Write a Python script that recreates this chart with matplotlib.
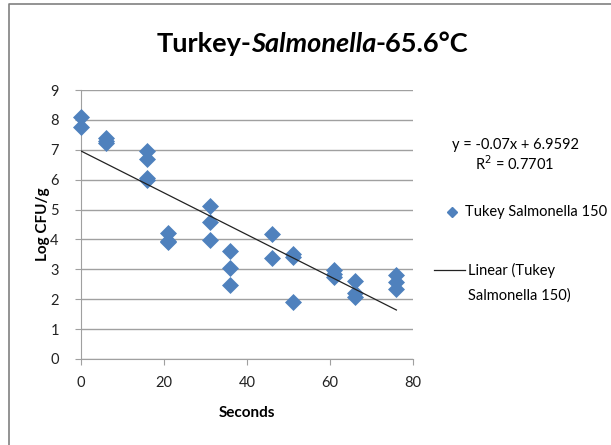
import matplotlib.pyplot as plt
import numpy as np
from matplotlib.lines import Line2D

plt.rcParams['font.family'] = ['Lato', 'DejaVu Sans']

# Survival data, turkey / Salmonella at 65.6 C
seconds = [0, 0, 6, 6, 6, 16, 16, 16, 16, 21, 21, 21, 31, 31, 31, 36, 36, 36,
           46, 46, 51, 51, 51, 61, 61, 61, 66, 66, 66, 76, 76, 76]
log_cfu = [8.1, 7.76, 7.4, 7.3, 7.22, 6.95, 6.68, 6.05, 6.0, 4.2, 3.95, 3.9,
           5.13, 4.6, 3.97, 3.62, 3.03, 2.48, 4.17, 3.38, 3.5, 3.42, 1.9,
           2.97, 2.85, 2.73, 2.62, 2.22, 2.07, 2.8, 2.57, 2.33]

# Linear trend (as reported)
slope = -0.07
intercept = 6.9592
r_squared = 0.7701

fig = plt.figure(figsize=(6.11, 4.45), dpi=100)
ax = fig.add_axes([81 / 611, 1 - 359 / 445, 332 / 611, 269 / 445])

ax.scatter(seconds, log_cfu, marker='D', s=75, color='#4F81BD', zorder=3,
           linewidths=0, clip_on=False)
xs = np.array([min(seconds), max(seconds)])
ax.plot(xs, slope * xs + intercept, color='#222222', lw=0.9, zorder=4)

ax.set_xlim(0, 80)
ax.set_ylim(0, 9)
ax.set_xticks(range(0, 81, 20))
ax.set_yticks(range(0, 10))
ax.grid(axis='y', color='#A0A0A0', lw=1)
ax.set_axisbelow(True)
for side in ['top', 'right']:
    ax.spines[side].set_visible(False)
for side in ['left', 'bottom']:
    ax.spines[side].set_color('#A0A0A0')
ax.tick_params(axis='both', colors='#A0A0A0', labelcolor='#222222',
               labelsize=10.5, length=4, direction='out')
ax.tick_params(axis='y', pad=12)
ax.tick_params(axis='x', pad=8)
ax.set_xlabel('Seconds', fontsize=11, fontweight='bold', labelpad=12)
ax.set_ylabel('Log CFU/g', fontsize=11, fontweight='bold', labelpad=0)

# chart title, mixed upright and italic
parts = [('Turkey-', 'normal'), ('Salmonella', 'italic'), ('-65.6°C', 'normal')]
renderer = fig.canvas.get_renderer()
x = 157
for txt, style in parts:
    t = fig.text(x / 611, 1 - 44 / 445, txt, fontsize=19.5, fontweight='bold',
                 style=style, ha='left', va='center')
    x += t.get_window_extent(renderer).width - 1

# trendline equation
fig.text(515 / 611, 1 - 145 / 445, 'y = -0.07x + 6.9592', fontsize=10.5,
         ha='center', va='center')
fig.text(515 / 611, 1 - 164 / 445, 'R$^2$ = %.4f' % r_squared, fontsize=10.5,
         ha='center', va='center')

# legend
fig.add_artist(Line2D([452 / 611], [1 - 212 / 445], marker='D', markersize=5,
                      color='#4F81BD', lw=0, transform=fig.transFigure))
fig.text(465 / 611, 1 - 212 / 445, 'Tukey Salmonella 150', fontsize=10.5,
         ha='left', va='center')
fig.add_artist(Line2D([434 / 611, 465 / 611], [1 - 270 / 445, 1 - 270 / 445],
                      color='#222222', lw=0.9, transform=fig.transFigure))
fig.text(468 / 611, 1 - 270 / 445, 'Linear (Tukey', fontsize=10.5,
         ha='left', va='center')
fig.text(468 / 611, 1 - 296 / 445, 'Salmonella 150)', fontsize=10.5,
         ha='left', va='center')

# chart area border
fig.add_artist(Line2D([9 / 611, 9 / 611, 1], [0, 1 - 4 / 445, 1 - 4 / 445],
                      color='#808080', lw=1.2, transform=fig.transFigure))

fig.savefig('out.png', dpi=100)
